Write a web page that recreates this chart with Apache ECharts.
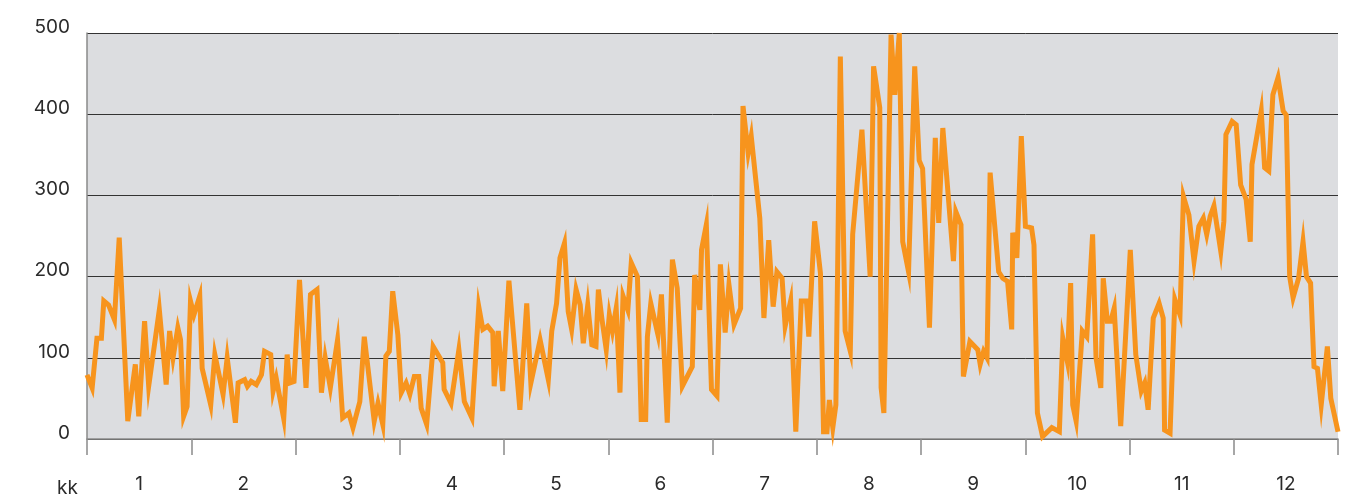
<!DOCTYPE html>
<html>
<head>
<meta charset="utf-8">
<script src="https://cdn.jsdelivr.net/npm/echarts@6/dist/echarts.min.js"></script>
<style>
html,body{margin:0;padding:0;background:#fff;}
#chart{width:1357px;height:495px;}
</style>
</head>
<body>
<div id="chart"></div>
<script>
var months = ['1','2','3','4','5','6','7','8','9','10','11','12'];
var yTicks = [0,100,200,300,400,500];
var axisName = 'kk';
// day of year (0..365) of each vertex of the line
var days = [
0,1.5,2.9,4.2,4.9,6.3,8.0,9.4,11.9,14.1,15.1,16.8,18.0,21.1,23.1,24.1,25.1,26.5,27.3,28.2,29.2,
30.2,31.2,32.9,33.6,36.1,37.3,39.7,40.9,43.3,44.1,46.0,46.8,47.9,49.4,50.9,51.8,53.6,54.3,55.2,57.4,58.4,59.1,
60.4,62.0,63.9,65.2,67.1,68.4,69.5,71.0,73.1,74.6,76.4,77.6,79.6,80.9,83.8,84.9,86.3,87.2,88.2,89.2,
90.7,91.7,93.1,94.2,95.5,96.8,97.5,99.1,101.0,103.8,104.2,106.2,108.5,110.1,112.3,114.3,115.5,116.9,118.4,118.8,
120.0,121.3,123.1,126.3,128.3,129.5,132.2,134.6,135.6,137.0,138.0,139.3,140.4,141.4,142.7,143.9,144.8,146.1,147.3,148.5,149.2,
150.2,151.5,152.4,153.3,154.4,155.5,156.4,157.8,158.8,160.6,161.7,163.0,163.5,164.5,166.6,167.6,169.3,170.8,172.2,173.7,176.6,177.3,178.8,179.3,
180.7,182.2,183.8,184.8,186.2,187.3,188.8,190.7,191.4,192.9,193.8,196.3,197.5,198.9,200.2,201.3,202.8,203.7,205.3,206.8,208.4,209.9,
210.6,212.3,214.0,214.9,215.9,216.6,217.6,218.5,219.8,221.2,222.7,223.4,226.1,228.5,229.5,231.3,231.7,232.5,234.6,235.7,237.0,238.0,239.7,
241.5,242.8,243.8,245.8,247.5,248.5,249.7,252.8,253.5,255.0,255.7,257.6,259.9,260.6,261.6,262.6,263.5,266.0,267.2,268.6,269.8,
270.1,271.3,272.6,273.8,275.6,276.3,277.3,278.8,281.5,283.7,284.7,286.0,287.0,287.6,288.6,290.4,291.7,293.4,294.4,295.8,296.5,297.7,298.7,299.7,
301.6,304.4,306.0,307.6,308.6,309.6,311.1,312.8,314.0,314.4,316.0,317.4,318.9,319.9,321.5,323.0,324.4,325.7,326.7,327.7,328.8,
330.8,331.7,332.3,334.1,335.3,336.6,338.2,339.4,339.9,342.6,343.6,344.8,346.0,347.5,349.0,349.9,350.9,351.9,353.5,354.8,355.8,357.0,358.0,359.0,
360.1,361.9,362.9,365
];
var values = [
79,63,124,124,170,165,147,248,22,92,28,145,65,159,67,133,100,137,122,28,40,
170,153,176,87,42,104,55,100,20,69,73,65,71,67,79,108,104,59,75,25,104,69,
71,196,63,178,184,57,100,63,122,26,32,14,46,126,22,44,18,102,108,182,
128,57,69,55,77,77,38,18,114,94,61,44,110,46,26,163,135,139,131,65,
133,59,195,36,167,69,122,73,133,167,223,241,157,135,184,165,118,165,116,114,184,
149,110,153,133,161,57,176,159,217,200,24,24,126,167,128,178,20,221,186,65,89,202,159,233,
264,61,53,215,131,190,141,161,410,352,373,272,149,245,163,206,198,139,170,9,170,170,
126,268,204,9,9,48,14,42,471,133,108,252,381,200,459,408,63,32,498,424,500,243,206,
459,343,333,137,371,266,383,219,280,264,77,120,110,92,108,100,328,206,198,194,135,
254,223,373,262,260,239,32,3,14,9,124,96,192,42,22,133,126,252,100,63,198,145,145,161,
16,233,104,59,69,36,149,167,149,11,7,172,153,299,276,219,262,272,252,274,287,
231,268,375,391,387,313,295,243,338,404,334,330,424,445,404,399,200,174,198,243,200,192,89,87,
42,114,50,9
];
var seriesData = days.map(function(d, i){ return [d, values[i]]; });
var FONT = 'Inter, Roboto, sans-serif';

var chart = echarts.init(document.getElementById('chart'), null, {renderer:'canvas'});
chart.setOption({
  animation: false,
  grid: {left: 87, right: 19, top: 33, bottom: 56, show: true, backgroundColor: '#dcdde0', borderWidth: 0},
  graphic: [{
    type: 'text', left: 57, top: 479, silent: true,
    style: {text: axisName, fill: '#2b2b2b', font: '19px ' + FONT}
  }],
  xAxis: [
    {type: 'value', min: 0, max: 365, show: false},
    {type: 'category', data: months, boundaryGap: true, position: 'bottom',
     axisLine: {show: true, lineStyle: {color: '#8a8a8a', width: 1.5}},
     axisTick: {show: true, length: 16, interval: 0, lineStyle: {color: '#8a8a8a', width: 1.5}},
     axisLabel: {margin: 36, color: '#2b2b2b', fontSize: 19, fontFamily: FONT, interval: 0},
     splitLine: {show: false}
    }
  ],
  yAxis: {
    type: 'value', min: yTicks[0], max: yTicks[yTicks.length-1], interval: 100,
    axisLine: {show: true, lineStyle: {color: '#8a8a8a', width: 1.5}},
    axisTick: {show: false},
    axisLabel: {margin: 17, color: '#2b2b2b', fontSize: 19, fontFamily: FONT, verticalAlign: 'bottom', lineHeight: 12},
    splitLine: {show: true, lineStyle: {color: '#333333', width: 1}}
  },
  series: [{
    type: 'line', xAxisIndex: 0, data: seriesData, showSymbol: false, clip: false,
    lineStyle: {color: '#f7941d', width: 5, join: 'miter'},
    itemStyle: {color: '#f7941d'}
  }]
});
</script>
</body>
</html>
